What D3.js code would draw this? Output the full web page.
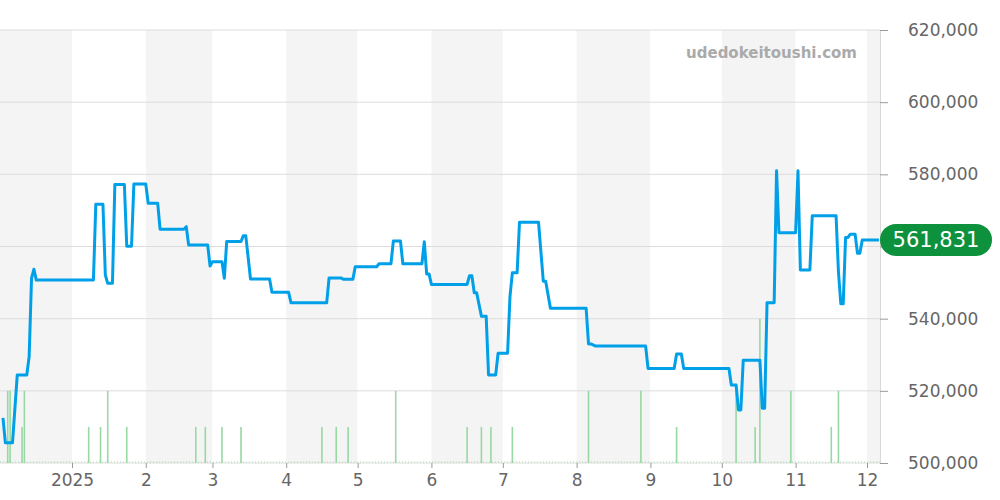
<!DOCTYPE html>
<html>
<head>
<meta charset="utf-8">
<script src="https://cdn.jsdelivr.net/npm/d3@7"></script>
<style>
  body { margin: 0; background: #fff; }
  svg { display: block; font-family: "DejaVu Sans", sans-serif; }
</style>
</head>
<body>
<svg width="1000" height="500"></svg>
<script>
// price line (date, yen)
var priceDates = [
  "2024-12-03","2024-12-04","2024-12-07","2024-12-09","2024-12-13","2024-12-14","2024-12-15","2024-12-16","2024-12-17",
  "2025-01-10","2025-01-11","2025-01-14","2025-01-15","2025-01-16","2025-01-18","2025-01-19","2025-01-23","2025-01-24",
  "2025-01-26","2025-01-27","2025-02-01","2025-02-02","2025-02-06","2025-02-07","2025-02-17","2025-02-18","2025-02-19",
  "2025-02-27","2025-02-28","2025-03-01","2025-03-05","2025-03-06","2025-03-07","2025-03-13","2025-03-14","2025-03-15",
  "2025-03-17","2025-03-25","2025-03-26","2025-04-02","2025-04-03","2025-04-18","2025-04-19","2025-04-24","2025-04-25",
  "2025-04-29","2025-04-30","2025-05-09","2025-05-10","2025-05-15","2025-05-16","2025-05-19","2025-05-20","2025-05-28",
  "2025-05-29","2025-05-30","2025-05-31","2025-06-01","2025-06-16","2025-06-17","2025-06-18","2025-06-19","2025-06-20",
  "2025-06-22","2025-06-24","2025-06-25","2025-06-28","2025-06-29","2025-07-03","2025-07-04","2025-07-05","2025-07-07",
  "2025-07-08","2025-07-16","2025-07-18","2025-07-19","2025-07-21","2025-08-05","2025-08-06","2025-08-07","2025-08-09",
  "2025-08-30","2025-08-31","2025-09-11","2025-09-12","2025-09-14","2025-09-15","2025-10-04","2025-10-05","2025-10-07",
  "2025-10-08","2025-10-09","2025-10-10","2025-10-17","2025-10-18","2025-10-19","2025-10-20","2025-10-23","2025-10-24",
  "2025-10-25","2025-11-01","2025-11-02","2025-11-03","2025-11-07","2025-11-08","2025-11-18","2025-11-19",
  "2025-11-20","2025-11-21","2025-11-22","2025-11-23","2025-11-24","2025-11-26","2025-11-27","2025-11-28","2025-11-29",
  "2025-12-06"
];
var priceValues = [
  512500,505600,505600,524400,524400,529500,551200,553700,550700,
  550700,571700,571700,552100,549800,549800,577200,577200,560100,
  560100,577300,577300,572000,572000,564800,564800,565500,560400,
  560400,554600,555800,555800,551200,561400,561400,563000,563000,
  551000,551000,547300,547300,544400,544400,551300,551300,550900,
  550900,554400,554400,555200,555200,561500,561500,555200,555200,
  561300,552400,552400,549500,549500,551900,551900,547200,547200,
  540700,540700,524400,524400,530400,530400,546100,552700,552700,
  566700,566700,550400,550400,542900,542900,533000,533000,532400,
  532400,526200,526200,530200,530200,526200,526200,521600,521600,
  514700,514700,528500,528500,515200,515200,544400,544400,581000,
  563800,563800,581000,553500,553500,568500,568500,553000,
  544100,544100,562500,562500,563400,563400,558100,558100,561831,
  561831
];

// trade counts (green bars)
var volDates = [
  "2024-12-05","2024-12-06","2024-12-11","2024-12-12","2025-01-08","2025-01-13","2025-01-16","2025-01-24",
  "2025-02-22","2025-02-26","2025-03-05","2025-03-13","2025-04-16","2025-04-22","2025-04-27","2025-05-17",
  "2025-06-16","2025-06-22","2025-06-26","2025-07-05","2025-08-06","2025-08-28","2025-09-12","2025-10-07",
  "2025-10-15","2025-10-17","2025-10-30","2025-11-16","2025-11-19"
];
var volValues = [2,2,1,2,1,1,2,1, 1,1,1,1,1,1,1,2, 1,1,1,1,2,2,1,2, 1,4,2,1,2];

var yTicks = [500000, 520000, 540000, 560000, 580000, 600000, 620000];
var lastPrice = 561831;
var siteName = "udedokeitoushi.com";

var parse = d3.timeParse("%Y-%m-%d");
var line = priceDates.map(function (d, i) { return {date: parse(d), value: priceValues[i]}; });
var vols = volDates.map(function (d, i) { return {date: parse(d), value: volValues[i]}; });

var svg = d3.select("svg"),
    plotL = 0, plotR = 880, plotT = 30, plotB = 463;

var x = d3.scaleTime()
    .domain([new Date(2024, 11, 1, 18), new Date(2025, 11, 6, 11)])
    .range([plotL, plotR]);

var y = d3.scaleLinear()
    .domain([500000, 620000])
    .range([plotB, plotT]);

var yv = d3.scaleLinear()
    .domain([0, 12])
    .range([plotB, plotT]);

// alternating month bands
var months = d3.timeMonth.range(new Date(2024, 11, 1), new Date(2026, 0, 1));
svg.append("g").selectAll("rect")
    .data(months)
    .enter().append("rect")
    .attr("x", function (d) { return Math.max(plotL, x(d)); })
    .attr("y", plotT)
    .attr("width", function (d) {
        return Math.min(plotR, x(d3.timeMonth.offset(d, 1))) - Math.max(plotL, x(d));
    })
    .attr("height", plotB - plotT)
    .attr("fill", function (d, i) { return i % 2 === 0 ? "#f4f4f4" : "#fff"; });

// grid
svg.append("g").selectAll("line")
    .data(yTicks)
    .enter().append("line")
    .attr("x1", plotL).attr("x2", plotR)
    .attr("y1", function (d) { return y(d); })
    .attr("y2", function (d) { return y(d); })
    .attr("stroke", "#dcdcdc");

// right axis (the 560,000 label sits under the price badge)
var yAxis = svg.append("g")
    .attr("transform", "translate(" + plotR + ",0)")
    .call(d3.axisRight(y).tickValues(yTicks).tickSize(8).tickPadding(20).tickFormat(d3.format(",")));
yAxis.select(".domain").attr("stroke", "#d8d8d8");
yAxis.selectAll(".tick line").attr("stroke", "#999");
yAxis.selectAll("text").attr("fill", "#666").style("font-size", "17px").style("font-family", "DejaVu Sans");
yAxis.selectAll(".tick").filter(function (d) { return Math.abs(y(d) - y(lastPrice)) < 16; })
    .select("text").remove();

// bottom axis
var monthTicks = d3.timeMonth.range(new Date(2025, 0, 1), new Date(2025, 11, 2));
var xAxis = svg.append("g")
    .attr("transform", "translate(0," + plotB + ")")
    .call(d3.axisBottom(x).tickValues(monthTicks).tickSize(5).tickPadding(6)
        .tickFormat(function (d) { return d.getMonth() === 0 ? d.getFullYear() : d.getMonth() + 1; }));
xAxis.select(".domain").remove();
xAxis.selectAll(".tick line").attr("stroke", "#999");
xAxis.selectAll("text").attr("fill", "#666").style("font-size", "17px").style("font-family", "DejaVu Sans");

// volume bars
svg.append("line")
    .attr("x1", plotL).attr("x2", plotR)
    .attr("y1", plotB - 1).attr("y2", plotB - 1)
    .attr("stroke", "#a6dcae")
    .attr("stroke-dasharray", "1,2");

svg.append("g").selectAll("line")
    .data(vols)
    .enter().append("line")
    .attr("x1", function (d) { return x(d.date); })
    .attr("x2", function (d) { return x(d.date); })
    .attr("y1", plotB)
    .attr("y2", function (d) { return yv(d.value); })
    .attr("stroke", "#98d8a2")
    .attr("stroke-width", 1.6);

// watermark
svg.append("text")
    .attr("x", 857).attr("y", 58)
    .attr("text-anchor", "end")
    .attr("fill", "#aaa")
    .style("font-size", "15px")
    .style("font-weight", "bold")
    .text(siteName);

// price line
svg.append("path")
    .datum(line)
    .attr("fill", "none")
    .attr("stroke", "#00a0e9")
    .attr("stroke-width", 3)
    .attr("stroke-linejoin", "round")
    .attr("d", d3.line()
        .x(function (d) { return x(d.date); })
        .y(function (d) { return y(d.value); }));

// last price badge
var by = y(lastPrice);
svg.append("rect")
    .attr("x", plotR).attr("y", by - 16)
    .attr("width", 112).attr("height", 32)
    .attr("rx", 16)
    .attr("fill", "#0e913c");
svg.append("text")
    .attr("x", plotR + 56).attr("y", by)
    .attr("dy", "0.36em")
    .attr("text-anchor", "middle")
    .attr("fill", "#fff")
    .style("font-size", "21px")
    .text(d3.format(",")(lastPrice));
</script>
</body>
</html>
